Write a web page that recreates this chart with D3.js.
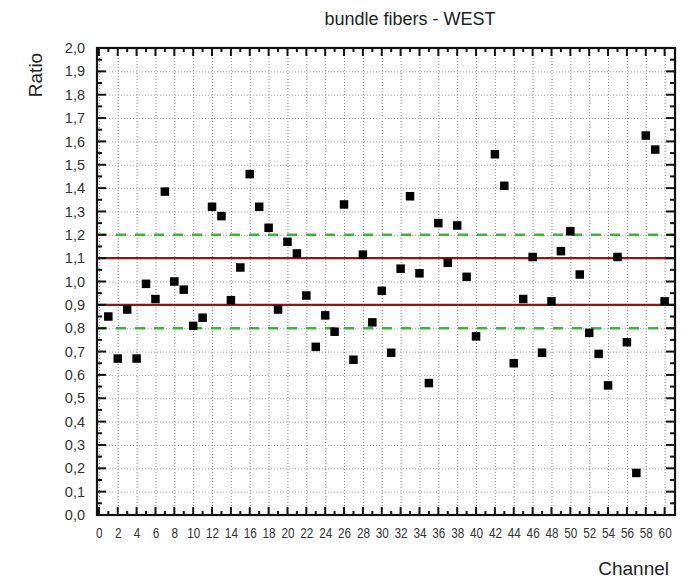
<!DOCTYPE html>
<html>
<head>
<meta charset="utf-8">
<script src="https://cdn.jsdelivr.net/npm/d3@7"></script>
<style>
  body { margin: 0; background: #fff; }
  svg { font-family: "Liberation Sans", Arial, sans-serif; }
  .grid line { stroke: #8c8c8c; stroke-dasharray: 1,2; }
  .grid path { display: none; }
  .axis path { display: none; }
  .axis line { stroke: #111; stroke-width: 2; }
  .axis text { fill: #333; }
</style>
</head>
<body>
<svg id="chart"></svg>
<script>
// channel numbers (41 has no point)
var channels = [1, 2, 3, 4, 5, 6, 7, 8, 9, 10, 11, 12, 13, 14, 15, 16, 17, 18, 19, 20,
  21, 22, 23, 24, 25, 26, 27, 28, 29, 30, 31, 32, 33, 34, 35, 36, 37, 38, 39, 40,
  42, 43, 44, 45, 46, 47, 48, 49, 50, 51, 52, 53, 54, 55, 56, 57, 58, 59, 60];
var ratios = [0.85, 0.67, 0.88, 0.67, 0.99, 0.925, 1.385, 1.0, 0.965, 0.81,
  0.845, 1.32, 1.28, 0.92, 1.06, 1.46, 1.32, 1.23, 0.88, 1.17,
  1.12, 0.94, 0.72, 0.855, 0.785, 1.33, 0.665, 1.115, 0.825, 0.96,
  0.695, 1.055, 1.365, 1.035, 0.565, 1.25, 1.08, 1.24, 1.02, 0.765,
  1.545, 1.41, 0.65, 0.925, 1.105, 0.695, 0.915, 1.13, 1.215, 1.03,
  0.78, 0.69, 0.555, 1.105, 0.74, 0.18, 1.625, 1.565, 0.915];

var xTicks = d3.range(0, 61, 2);
var xMinor = d3.range(1, 61, 2);
var yTicks = d3.range(0, 21).map(function (i) { return i / 10; });
var yMinor = d3.range(0, 20).map(function (i) { return i / 10 + 0.05; });
var redLines = [0.9, 1.1];
var greenLines = [0.8, 1.2];

var svgWidth = 695, svgHeight = 578;
var plotLeft = 97, plotRight = 675, plotTop = 48, plotBottom = 515;

var svg = d3.select("#chart")
  .attr("width", svgWidth)
  .attr("height", svgHeight);

var xScale = d3.scaleLinear().domain([-0.2, 61.1]).range([plotLeft, plotRight]);
var yScale = d3.scaleLinear().domain([0, 2]).range([plotBottom, plotTop]);

var fmt = function (d) { return d3.format(".1f")(d).replace(".", ","); };

// grid
svg.append("g")
  .attr("class", "grid")
  .attr("transform", "translate(0," + plotBottom + ")")
  .call(d3.axisBottom(xScale).tickValues(xTicks).tickSize(-(plotBottom - plotTop)).tickFormat(""));
svg.append("g")
  .attr("class", "grid")
  .attr("transform", "translate(" + plotLeft + ",0)")
  .call(d3.axisLeft(yScale).tickValues(yTicks).tickSize(-(plotRight - plotLeft)).tickFormat(""))
  .selectAll("line").style("stroke", "#a8a8a8");

// limit lines
svg.selectAll(".green-line")
  .data(greenLines)
  .enter()
  .append("line")
  .attr("class", "green-line")
  .attr("x1", plotLeft).attr("x2", plotRight)
  .attr("y1", function (d) { return yScale(d); })
  .attr("y2", function (d) { return yScale(d); })
  .attr("stroke", "#36b936")
  .attr("stroke-width", 2.5)
  .attr("stroke-dasharray", "10,9");

svg.selectAll(".red-line")
  .data(redLines)
  .enter()
  .append("line")
  .attr("class", "red-line")
  .attr("x1", plotLeft).attr("x2", plotRight)
  .attr("y1", function (d) { return yScale(d); })
  .attr("y2", function (d) { return yScale(d); })
  .attr("stroke", "#8a1818")
  .attr("stroke-width", 2.2);

// inward tick marks on all four sides, drawn as plain lines from the scales
function tickLines(cls, values, len, side) {
  svg.selectAll("." + cls)
    .data(values)
    .enter()
    .append("line")
    .attr("class", cls)
    .attr("x1", function (d) { return side === "left" ? plotLeft : side === "right" ? plotRight : xScale(d); })
    .attr("x2", function (d) { return side === "left" ? plotLeft + len : side === "right" ? plotRight - len : xScale(d); })
    .attr("y1", function (d) { return side === "top" ? plotTop : side === "bottom" ? plotBottom : yScale(d); })
    .attr("y2", function (d) { return side === "top" ? plotTop + len : side === "bottom" ? plotBottom - len : yScale(d); })
    .attr("stroke", "#111")
    .attr("stroke-width", 2);
}
tickLines("tb-major", xTicks, 8, "bottom");
tickLines("tb-minor", xMinor, 4, "bottom");
tickLines("tt-major", xTicks, 8, "top");
tickLines("tt-minor", xMinor, 4, "top");
tickLines("tl-major", yTicks, 9, "left");
tickLines("tl-minor", yMinor, 5, "left");
tickLines("tr-major", yTicks, 9, "right");
tickLines("tr-minor", yMinor, 5, "right");

// tick labels through the axis generators
var xb = svg.append("g")
  .attr("class", "axis")
  .attr("transform", "translate(0," + plotBottom + ")")
  .call(d3.axisBottom(xScale).tickValues(xTicks).tickSize(0).tickPadding(13));
xb.selectAll("line").remove();
xb.selectAll("text")
  .attr("font-size", "14px")
  .attr("transform", "scale(0.84,1)");

var yl = svg.append("g")
  .attr("class", "axis")
  .attr("transform", "translate(" + plotLeft + ",0)")
  .call(d3.axisLeft(yScale).tickValues(yTicks).tickSize(0).tickPadding(12).tickFormat(fmt));
yl.selectAll("line").remove();
yl.selectAll("text").attr("font-size", "14.5px");

// frame
svg.append("rect")
  .attr("x", plotLeft).attr("y", plotTop)
  .attr("width", plotRight - plotLeft).attr("height", plotBottom - plotTop)
  .attr("fill", "none")
  .attr("stroke", "#111")
  .attr("stroke-width", 2.2);

// points
var size = 8.5;
svg.selectAll(".pt")
  .data(channels)
  .enter()
  .append("rect")
  .attr("class", "pt")
  .attr("x", function (d) { return xScale(d) - size / 2; })
  .attr("y", function (d, i) { return yScale(ratios[i]) - size / 2; })
  .attr("width", size)
  .attr("height", size)
  .attr("fill", "#000");

// labels
svg.append("text")
  .attr("x", 410).attr("y", 25)
  .attr("text-anchor", "middle")
  .attr("font-size", "18px")
  .attr("fill", "#222")
  .text("bundle fibers - WEST");

svg.append("text")
  .attr("transform", "translate(42,75) rotate(-90)")
  .attr("text-anchor", "middle")
  .attr("font-size", "19px")
  .attr("fill", "#222")
  .text("Ratio");

svg.append("text")
  .attr("x", 669).attr("y", 575)
  .attr("text-anchor", "end")
  .attr("font-size", "19px")
  .attr("fill", "#222")
  .text("Channel");
</script>
</body>
</html>
